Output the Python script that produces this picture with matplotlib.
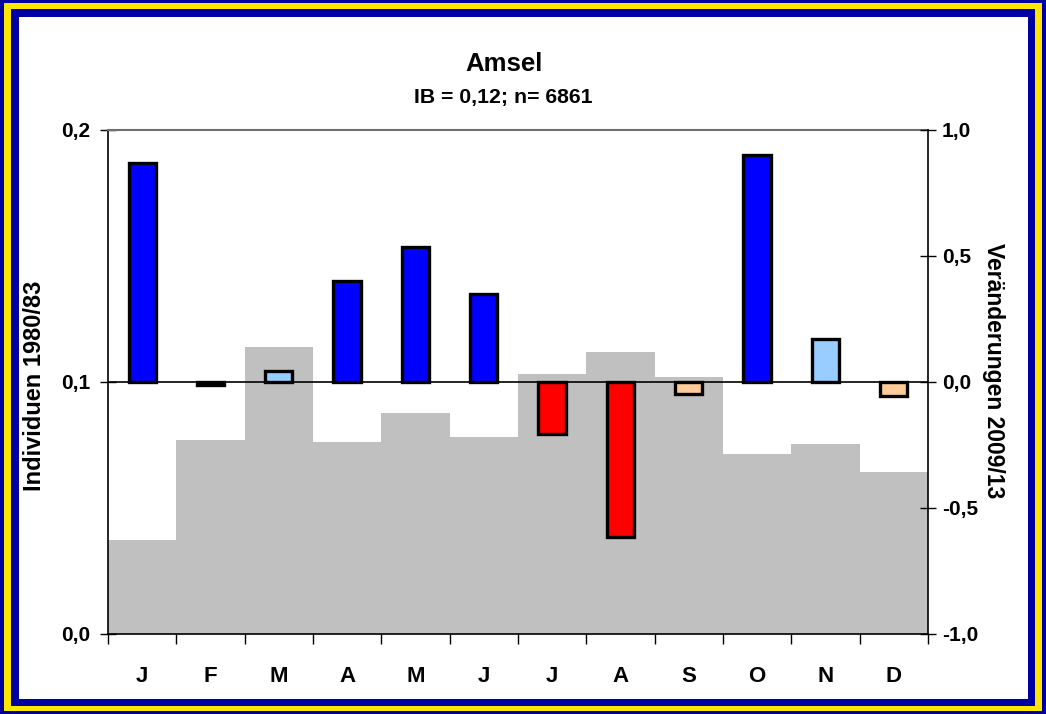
import matplotlib
matplotlib.use("Agg")
import matplotlib.pyplot as plt
from matplotlib.patches import Rectangle
import numpy as np

plt.rcParams['font.family'] = ['Liberation Sans', 'DejaVu Sans']

months = ["J", "F", "M", "A", "M", "J", "J", "A", "S", "O", "N", "D"]
base_1980 = [0.0373, 0.077, 0.114, 0.0762, 0.0877, 0.078, 0.103, 0.112, 0.102, 0.0714, 0.0754, 0.0643]
change_2009 = [0.869, -0.01, 0.045, 0.40, 0.536, 0.349, -0.206, -0.615, -0.048, 0.90, 0.17, -0.056]
bar_colors = ["#0000FF", "#000000", "#99CCFF", "#0000FF", "#0000FF", "#0000FF",
              "#FF0000", "#FF0000", "#FFCC99", "#0000FF", "#99CCFF", "#FFCC99"]

W, H = 1046, 714
fig = plt.figure(figsize=(W / 100, H / 100), dpi=100)

def frect(x0, y0, x1, y1, color):
    fig.patches.append(Rectangle((x0 / W, 1 - y1 / H), (x1 - x0) / W, (y1 - y0) / H,
                                 transform=fig.transFigure, facecolor=color,
                                 edgecolor='none', zorder=-10))

frect(0, 0, W, H, "#0000A0")
frect(4, 3, W - 4, H - 3, "#FFE600")
frect(11, 9, W - 11, H - 8, "#0000A0")
frect(19, 17, W - 18, H - 15, "#FFFFFF")

left, right, top, bottom = 108, 928, 130, 634
ax = fig.add_axes([left / W, 1 - bottom / H, (right - left) / W, (bottom - top) / H])
ax.set_facecolor('none')
x = np.arange(12)
ax.bar(x, base_1980, width=1.0, color="#C0C0C0", linewidth=0, zorder=1)
ax.set_xlim(-0.5, 11.5)
ax.set_ylim(0, 0.2)
ax.set_yticks([0, 0.1, 0.2])
ax.set_yticklabels(["0,0", "0,1", "0,2"])
ax.set_xticks(x)
ax.set_xticklabels(months)
ax.set_xticks(np.arange(-0.5, 12, 1), minor=True)
ax.tick_params(axis='x', which='major', length=0, pad=23, labelsize=16)
ax.tick_params(axis='x', which='minor', length=7, width=1, direction='out')
ax.tick_params(axis='y', direction='inout', length=12, width=1, labelsize=15, pad=7)
for lab in ax.get_xticklabels() + ax.get_yticklabels():
    lab.set_fontweight('bold')
ax.spines['top'].set_color('#707070')
ax.spines['top'].set_linewidth(1.5)
ax.spines['right'].set_visible(False)
ax.spines['left'].set_linewidth(1.2)
ax.spines['bottom'].set_linewidth(1.2)
ax.set_ylabel("Individuen 1980/83", fontsize=17, fontweight='bold')
ax.yaxis.set_label_coords((46 - left) / (right - left), (bottom - 386) / (bottom - top))

ax2 = ax.twinx()
ax2.bar(x, change_2009, width=0.4, color=bar_colors, edgecolor='black', linewidth=2.4, zorder=3)
ax2.axhline(0, color='black', linewidth=1.2, zorder=2)
ax2.set_ylim(-1, 1)
ax2.set_yticks([-1, -0.5, 0, 0.5, 1])
ax2.set_yticklabels(["-1,0", "-0,5", "0,0", "0,5", "1,0"])
ax2.tick_params(axis='y', direction='inout', length=12, width=1, labelsize=15, pad=4)
for lab in ax2.get_yticklabels():
    lab.set_fontweight('bold')
for s in ['top', 'left', 'bottom']:
    ax2.spines[s].set_visible(False)
ax2.spines['right'].set_linewidth(1.2)
ax2.set_ylabel("Veränderungen 2009/13", fontsize=16.5, fontweight='bold', rotation=270)
ax2.yaxis.set_label_coords((1005 - left) / (right - left), (bottom - 371) / (bottom - top))

fig.text(504 / W, 1 - 64 / H, "Amsel", ha='center', va='center', fontsize=18.5, fontweight='bold')
fig.text(503 / W, 1 - 97 / H, "IB = 0,12; n= 6861", ha='center', va='center', fontsize=15.3, fontweight='bold')

fig.savefig("out.png", dpi=100)
